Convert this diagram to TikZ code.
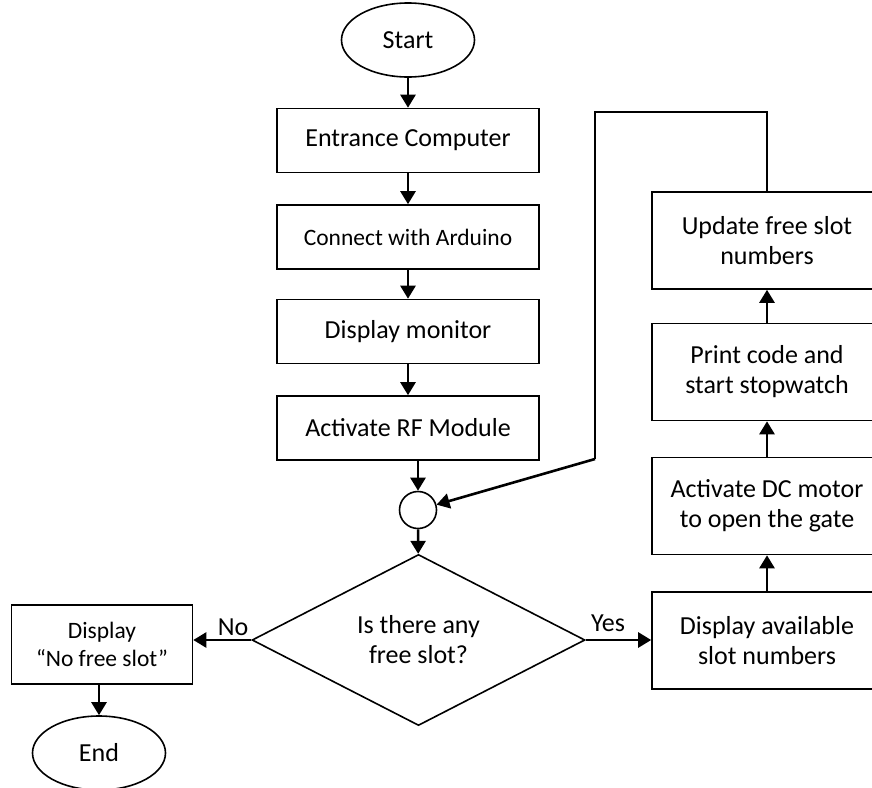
\documentclass[tikz,border=0pt]{standalone}
\usepackage{fontspec}
\setmainfont{Carlito}
\usetikzlibrary{shapes.geometric,arrows.meta}
\begin{document}
\begin{tikzpicture}[x=1pt,y=-1pt,
    box/.style={draw,line width=1.6pt,minimum width=262pt,minimum height=64pt,inner sep=0pt,align=center,font=\fontsize{26}{30}\selectfont},
    rbox/.style={box,minimum width=230pt,minimum height=97pt},
    small/.style={font=\fontsize{23.5}{28}\selectfont},
    term/.style={ellipse,draw,line width=1.6pt,minimum width=133pt,minimum height=74pt,inner sep=0pt,font=\fontsize{26}{30}\selectfont},
    arr/.style={-{Triangle[length=13pt,width=15pt]},line width=2.6pt},
    line/.style={line width=1.6pt}]
    \useasboundingbox (0,0) rectangle (872,787);
    \clip (0,0) rectangle (872,787);

    % left column
    \node[term] (start) at (408,40) {Start};
    \node[box] (entr) at (408,140.5) {Entrance Computer};
    \node[box,small] (ard) at (408,237) {Connect with Arduino};
    \node[box] (mon) at (408,331.5) {Display monitor};
    \node[box] (rf) at (408,428) {Activate RF Module};
    \node[circle,draw,line width=1.6pt,minimum size=37pt,inner sep=0pt] (join) at (418,510) {};
    \node[diamond,draw,line width=1.6pt,minimum width=333pt,minimum height=170pt,inner sep=0pt,align=center,font=\fontsize{26}{30}\selectfont] (free) at (418.5,640) {Is there any\\free slot?};

    % no branch
    \node[box,small,minimum width=181pt,minimum height=79pt] (nofree) at (102,644.5) {Display\\“No free slot”};
    \node[term] (end) at (99,753) {End};

    % yes branch
    \node[rbox] (avail) at (767,640.5) {Display available\\slot numbers};
    \node[rbox] (motor) at (767,506) {Activate DC motor\\to open the gate};
    \node[rbox] (print) at (767,372) {Print code and\\start stopwatch};
    \node[rbox] (upd) at (767,240.5) {Update free slot\\numbers};

    \node[font=\fontsize{26}{30}\selectfont] (no) at (233,627) {No};
    \node[font=\fontsize{26}{30}\selectfont] (yes) at (608,623) {Yes};

    \draw[arr] (start) -- (entr);
    \draw[arr] (entr) -- (ard);
    \draw[arr] (ard) -- (mon);
    \draw[arr] (mon) -- (rf);
    \draw[arr] (rf.south -| join) -- (join);
    \draw[arr] (join) -- (free);
    \draw[arr] (free.west) -- (free.west -| nofree.east);
    \draw[arr] (nofree.south -| end) -- (end);
    \draw[arr] (free.east) -- (free.east -| avail.west);
    \draw[arr] (avail) -- (motor);
    \draw[arr] (motor) -- (print);
    \draw[arr] (print) -- (upd);

    % loop back
    \coordinate (loop) at (595,112);
    \coordinate (bend) at (595,459);
    \draw[line] (upd.north) |- (loop) -- (bend);
    \draw[arr] (bend) -- (join);
\end{tikzpicture}
\end{document}
